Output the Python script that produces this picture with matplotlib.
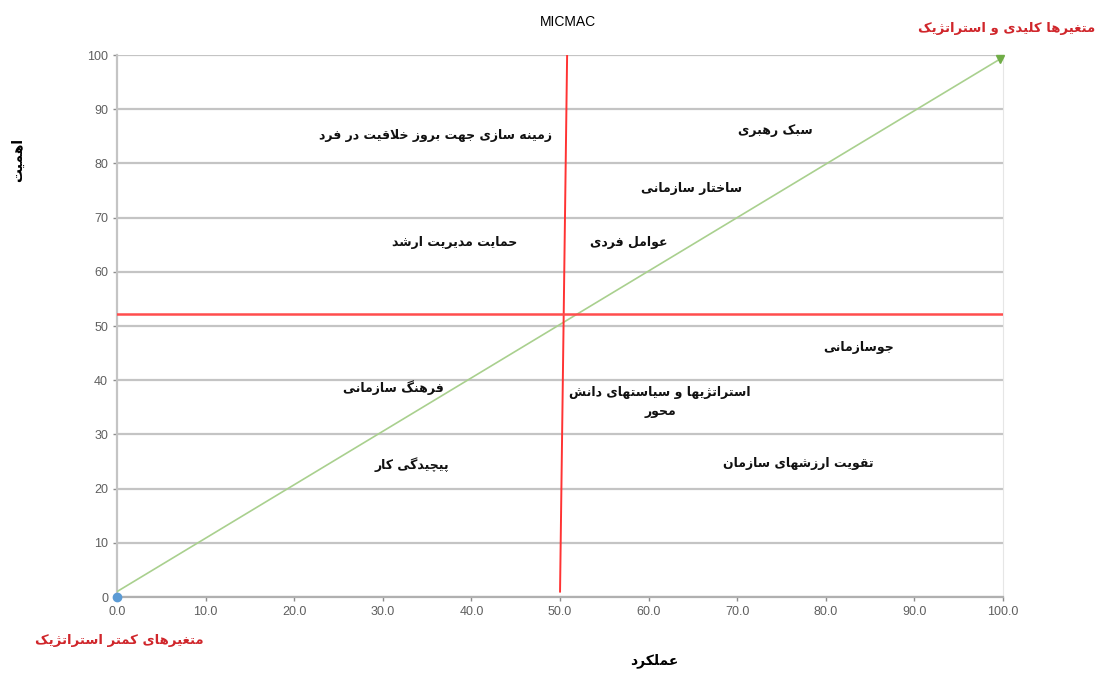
import matplotlib
matplotlib.use('Agg')
import matplotlib.pyplot as plt

# داده ها
labels = ['زمینه سازی جهت بروز خلاقیت در فرد', 'سبک رهبری', 'ساختار سازمانی',
          'حمایت مدیریت ارشد', 'عوامل فردی', 'جوسازمانی', 'فرهنگ سازمانی',
          'استراتژیها و سیاستهای دانش\nمحور', 'پیچیدگی کار', 'تقویت ارزشهای سازمان']
label_x = [35.9, 74.3, 64.8, 38.1, 57.8, 83.7, 31.2, 61.3, 33.3, 76.9]
label_y = [85.2, 86.0, 75.3, 65.5, 65.5, 46.1, 38.7, 36.0, 24.5, 24.7]

vline_x = [50.0, 50.8]
vline_y = [1.0, 100.0]
hline_y = 52.2
diag_x = [0.0, 99.7]
diag_y = [1.0, 99.3]

x_ticks = [0, 10, 20, 30, 40, 50, 60, 70, 80, 90, 100]
y_ticks = [0, 10, 20, 30, 40, 50, 60, 70, 80, 90, 100]

title = 'MICMAC'
x_label = 'عملکرد'
y_label = 'اهمیت'
top_note = 'متغیرها کلیدی و استراتژیک'
bottom_note = 'متغیرهای کمتر استراتژیک'

# شکل حروف عربی/فارسی (matplotlib خودش حروف را به هم وصل نمی کند)
FORMS = {
    'ا': ('\uFE8D', '\uFE8E', None, None),
    'ب': ('\uFE8F', '\uFE90', '\uFE91', '\uFE92'),
    'پ': ('\uFB56', '\uFB57', '\uFB58', '\uFB59'),
    'ت': ('\uFE95', '\uFE96', '\uFE97', '\uFE98'),
    'ث': ('\uFE99', '\uFE9A', '\uFE9B', '\uFE9C'),
    'ج': ('\uFE9D', '\uFE9E', '\uFE9F', '\uFEA0'),
    'چ': ('\uFB7A', '\uFB7B', '\uFB7C', '\uFB7D'),
    'ح': ('\uFEA1', '\uFEA2', '\uFEA3', '\uFEA4'),
    'خ': ('\uFEA5', '\uFEA6', '\uFEA7', '\uFEA8'),
    'د': ('\uFEA9', '\uFEAA', None, None),
    'ذ': ('\uFEAB', '\uFEAC', None, None),
    'ر': ('\uFEAD', '\uFEAE', None, None),
    'ز': ('\uFEAF', '\uFEB0', None, None),
    'ژ': ('\uFB8A', '\uFB8B', None, None),
    'س': ('\uFEB1', '\uFEB2', '\uFEB3', '\uFEB4'),
    'ش': ('\uFEB5', '\uFEB6', '\uFEB7', '\uFEB8'),
    'ع': ('\uFEC9', '\uFECA', '\uFECB', '\uFECC'),
    'غ': ('\uFECD', '\uFECE', '\uFECF', '\uFED0'),
    'ف': ('\uFED1', '\uFED2', '\uFED3', '\uFED4'),
    'ق': ('\uFED5', '\uFED6', '\uFED7', '\uFED8'),
    'ک': ('\uFB8E', '\uFB8F', '\uFB90', '\uFB91'),
    'گ': ('\uFB92', '\uFB93', '\uFB94', '\uFB95'),
    'ل': ('\uFEDD', '\uFEDE', '\uFEDF', '\uFEE0'),
    'م': ('\uFEE1', '\uFEE2', '\uFEE3', '\uFEE4'),
    'ن': ('\uFEE5', '\uFEE6', '\uFEE7', '\uFEE8'),
    'ه': ('\uFEE9', '\uFEEA', '\uFEEB', '\uFEEC'),
    'و': ('\uFEED', '\uFEEE', None, None),
    'ی': ('\uFBFC', '\uFBFD', '\uFBFE', '\uFBFF'),
}


def shape(text):
    lines = []
    for line in text.split('\n'):
        out = []
        prev_joins = False
        i = 0
        while i < len(line):
            c = line[i]
            if c not in FORMS:
                out.append(c)
                prev_joins = False
                i += 1
                continue
            if c == 'ل' and i + 1 < len(line) and line[i + 1] == 'ا':
                out.append('\uFEFC' if prev_joins else '\uFEFB')
                prev_joins = False
                i += 2
                continue
            iso, fin, ini, med = FORMS[c]
            nxt = line[i + 1] if i + 1 < len(line) else ''
            next_ok = ini is not None and nxt in FORMS
            if prev_joins and next_ok:
                g = med
            elif prev_joins:
                g = fin
            elif next_ok:
                g = ini
            else:
                g = iso
            out.append(g)
            prev_joins = next_ok
            i += 1
        lines.append(''.join(reversed(out)))
    return '\n'.join(lines)


fig = plt.figure(figsize=(11.02, 6.73), dpi=100)
ax = fig.add_axes([0.1062, 0.1129, 0.804, 0.8053])

ax.set_xlim(0, 100)
ax.set_ylim(0, 100)

# خطوط افقی
for yt in y_ticks:
    ax.axhline(yt, color='#c4c4c4', lw=1.6, zorder=1)

ax.plot(diag_x, diag_y, color='#a9d08e', lw=1.2, zorder=3)
ax.plot([diag_x[-1]], [diag_y[-1]], marker='v', color='#70ad47', ms=6, zorder=4, clip_on=False)
ax.plot([0], [0], marker='o', color='#5b9bd5', ms=6, zorder=4, clip_on=False)

ax.plot(vline_x, vline_y, color='#ff3333', lw=1.4, zorder=3)
ax.axhline(hline_y, color='#ff4d4d', lw=1.8, zorder=3)

for txt, x, y in zip(labels, label_x, label_y):
    ax.text(x, y, shape(txt), ha='center', va='center', fontsize=9,
            fontweight='bold', color='#111111', family='DejaVu Sans', zorder=5,
            linespacing=1.6)

ax.set_xticks(x_ticks)
ax.set_xticklabels(['%.1f' % v for v in x_ticks])
ax.set_yticks(y_ticks)
ax.set_yticklabels([str(v) for v in y_ticks])
ax.tick_params(axis='both', colors='#8c8c8c', labelcolor='#5f5f5f', labelsize=9, length=3, width=1)
for lab in ax.get_xticklabels() + ax.get_yticklabels():
    lab.set_family('Liberation Sans')

ax.spines['top'].set_visible(False)
ax.spines['right'].set_color('#e6e6e6')
ax.spines['left'].set_color('#c4c4c4')
ax.spines['left'].set_linewidth(1.6)
ax.spines['bottom'].set_color('#b0b0b0')
ax.spines['bottom'].set_linewidth(1.6)

fig.text(0.515, 0.967, title, ha='center', va='center', fontsize=10, family='Liberation Sans')
fig.text(0.594, 0.018, shape(x_label), ha='center', va='center', fontsize=10,
         fontweight='bold', family='DejaVu Sans')
fig.text(0.016, 0.762, shape(y_label), ha='center', va='center', rotation=90, fontsize=10,
         fontweight='bold', family='DejaVu Sans')
fig.text(0.994, 0.958, shape(top_note), ha='right', va='center', fontsize=9.5,
         fontweight='bold', color='#d0262b', family='DejaVu Sans')
fig.text(0.032, 0.049, shape(bottom_note), ha='left', va='center', fontsize=9.5,
         fontweight='bold', color='#d0262b', family='DejaVu Sans')

fig.savefig('out.png', dpi=100)
